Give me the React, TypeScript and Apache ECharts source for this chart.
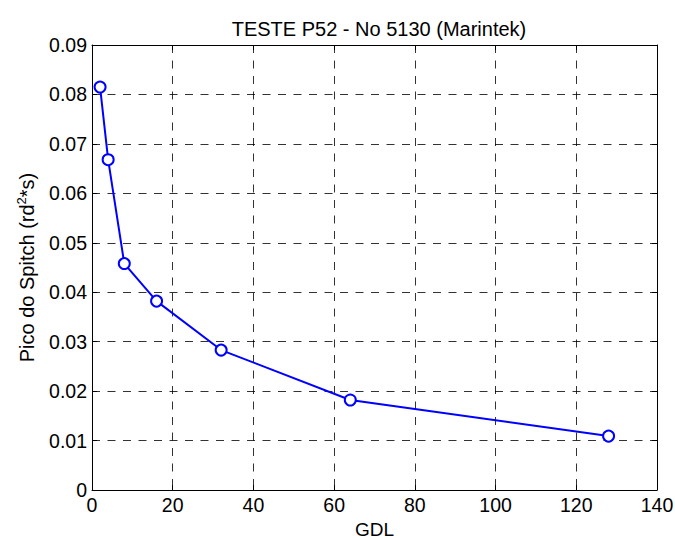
import React, { useEffect, useRef } from "react";
import * as echarts from "echarts";

const gdl = [2, 4, 8, 16, 32, 64, 128];
const picoSpitch = [0.0815, 0.0668, 0.0458, 0.0382, 0.0283, 0.0182, 0.0109];
const xTicks = { min: 0, max: 140, interval: 20 };
const yTicks = { min: 0, max: 0.09, interval: 0.01 };
const titleText = "TESTE P52 - No 5130 (Marintek)";
const xName = "GDL";

const FONT = "Liberation Sans, Arial, sans-serif";

export default function App() {
  const ref = useRef<HTMLDivElement>(null);
  useEffect(() => {
    if (!ref.current) return;
    const chart = echarts.init(ref.current, null, { renderer: "svg" });
    const grid = { left: 92, right: 18, top: 45, bottom: 48, containLabel: false, outerBoundsMode: "none" };
    const gridLine = { show: true, lineStyle: { color: "#000", type: [8, 7.5] as any, width: 1, opacity: 0.8 } };
    chart.setOption({
      animation: false,
      backgroundColor: "#fff",
      textStyle: { fontFamily: FONT },
      title: {
        text: titleText,
        left: 374,
        textAlign: "center",
        top: 14,
        textStyle: { fontFamily: FONT, fontWeight: "normal", fontSize: 20, color: "#000" },
      },
      grid,
      xAxis: [
        {
          type: "value",
          min: xTicks.min,
          max: xTicks.max,
          interval: xTicks.interval,
          position: "bottom",
          name: xName,
          nameLocation: "middle",
          nameGap: 21,
          nameTextStyle: { fontFamily: FONT, fontSize: 19, lineHeight: 19, color: "#000" },
          axisLine: { show: true, onZero: false, lineStyle: { color: "#000", width: 1 } },
          axisTick: { show: true, inside: true, length: 5, lineStyle: { color: "#000" } },
          axisLabel: { fontFamily: FONT, fontSize: 19.5, color: "#000", margin: 5 },
          splitLine: gridLine,
        },
        {
          type: "value",
          min: xTicks.min,
          max: xTicks.max,
          interval: xTicks.interval,
          position: "top",
          axisLine: { show: true, onZero: false, lineStyle: { color: "#000", width: 1 } },
          axisTick: { show: true, inside: true, length: 5, lineStyle: { color: "#000" } },
          axisLabel: { show: false },
          splitLine: { show: false },
        },
      ],
      yAxis: [
        {
          type: "value",
          min: yTicks.min,
          max: yTicks.max,
          interval: yTicks.interval,
          position: "left",
          name: "{n|Pico do Spitch (rd}{sup|2}{n|*s)}",
          nameLocation: "middle",
          nameGap: 55,
          nameTextStyle: {
            fontFamily: FONT,
            color: "#000",
            rich: {
              n: { fontFamily: FONT, fontSize: 20, lineHeight: 22, color: "#000", verticalAlign: "bottom" },
              sup: { fontFamily: FONT, fontSize: 13, color: "#000", verticalAlign: "top", padding: [0, 0, 2, 0] },
            },
          },
          axisLine: { show: true, onZero: false, lineStyle: { color: "#000", width: 1 } },
          axisTick: { show: true, inside: true, length: 5, lineStyle: { color: "#000" } },
          axisLabel: {
            fontFamily: FONT,
            fontSize: 19.5,
            color: "#000",
            margin: 5,
            formatter: (v: number) => (v === 0 ? "0" : v.toFixed(2)),
          },
          splitLine: gridLine,
        },
        {
          type: "value",
          min: yTicks.min,
          max: yTicks.max,
          interval: yTicks.interval,
          position: "right",
          axisLine: { show: true, onZero: false, lineStyle: { color: "#000", width: 1 } },
          axisTick: { show: true, inside: true, length: 5, lineStyle: { color: "#000" } },
          axisLabel: { show: false },
          splitLine: { show: false },
        },
      ],
      series: [
        {
          type: "line",
          data: gdl.map((x, i) => [x, picoSpitch[i]]),
          xAxisIndex: 0,
          yAxisIndex: 0,
          symbol: "emptyCircle",
          symbolSize: 11,
          showAllSymbol: true,
          lineStyle: { color: "#0000ff", width: 2 },
          itemStyle: { color: "#0000ff", borderColor: "#0000ff", borderWidth: 2 },
          emphasis: { disabled: true },
        },
      ],
    });
    return () => chart.dispose();
  }, []);
  return <div ref={ref} style={{ position: "absolute", left: 0, top: 0, width: 675, height: 538 }} />;
}
